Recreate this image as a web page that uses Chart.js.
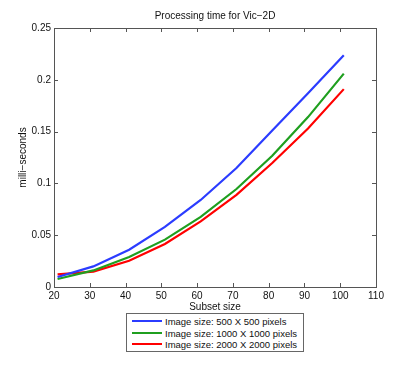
<!DOCTYPE html>
<html>
<head>
<meta charset="utf-8">
<script src="https://cdn.jsdelivr.net/npm/chart.js@4/dist/chart.umd.min.js"></script>
<style>
  html, body { margin: 0; padding: 0; background: #fff; }
  #wrap { position: relative; width: 415px; height: 381px; }
  #legend {
    position: absolute; left: 126px; top: 313px; width: 178px; height: 39px;
    border: 1px solid #666; background: #fff; box-sizing: border-box;
    font: 9.5px "Liberation Sans", Arial, sans-serif; color: #111;
    padding-top: 2px;
  }
  #legend div { height: 11.6px; line-height: 11.6px; white-space: nowrap; }
  #legend span.ln { display: inline-block; width: 30px; height: 2px; margin: 0 3px 3px 5px; vertical-align: middle; }
</style>
</head>
<body>
<div id="wrap">
  <canvas id="myChart" width="415" height="381"></canvas>
  <div id="legend"></div>
</div>
<script>
const subsetSize = [21, 31, 41, 51, 61, 71, 81, 91, 101];
const nombres = [
  "Image size: 500 X 500 pixels",
  "Image size: 1000 X 1000 pixels",
  "Image size: 2000 X 2000 pixels",
];
const t500 = [0.0097, 0.0199, 0.036, 0.058, 0.084, 0.1149, 0.151, 0.187, 0.2236];
const t1000 = [0.0077, 0.016, 0.029, 0.0457, 0.0676, 0.0946, 0.1267, 0.164, 0.206];
const t2000 = [0.0122, 0.0148, 0.0254, 0.0415, 0.0633, 0.089, 0.1197, 0.153, 0.191];
const colores = ["#2b3cff", "#1f9f1f", "#ff0000"];

const series = [t500, t1000, t2000];
const fuente = "'Liberation Sans', Arial, sans-serif";

// ticks hacia adentro en los cuatro lados + caja
const marco = {
  id: "marco",
  afterDraw(chart) {
    const c = chart.ctx;
    const a = chart.chartArea;
    const sx = chart.scales.x;
    const sy = chart.scales.y;
    c.save();
    c.strokeStyle = "#555";
    c.lineWidth = 1;
    c.beginPath();
    sx.ticks.forEach((t) => {
      const px = Math.round(sx.getPixelForValue(t.value)) + 0.5;
      c.moveTo(px, a.bottom); c.lineTo(px, a.bottom - 4);
      c.moveTo(px, a.top); c.lineTo(px, a.top + 4);
    });
    sy.ticks.forEach((t) => {
      const py = Math.round(sy.getPixelForValue(t.value)) + 0.5;
      c.moveTo(a.left, py); c.lineTo(a.left + 4, py);
      c.moveTo(a.right, py); c.lineTo(a.right - 4, py);
    });
    c.stroke();
    c.strokeRect(Math.round(a.left) + 0.5, Math.round(a.top) + 0.5,
      Math.round(a.right - a.left), Math.round(a.bottom - a.top));
    c.restore();
  },
};

new Chart(document.getElementById("myChart"), {
  type: "line",
  data: {
    datasets: series.map((s, i) => ({
      label: nombres[i],
      data: s.map((v, j) => ({ x: subsetSize[j], y: v })),
      borderColor: colores[i],
      backgroundColor: colores[i],
      borderWidth: 2.2,
      pointRadius: 0,
      tension: 0,
    })),
  },
  options: {
    responsive: false,
    animation: false,
    layout: { padding: { left: 0, top: 0, right: 39, bottom: 68 } },
    plugins: {
      legend: { display: false },
      tooltip: { enabled: false },
      title: {
        display: true,
        text: "Processing time for Vic\u22122D",
        fullSize: false,
        color: "#111",
        font: { family: fuente, size: 10, weight: "normal" },
        padding: { top: 10, bottom: 6 },
      },
    },
    scales: {
      x: {
        type: "linear",
        min: 20,
        max: 110,
        ticks: { stepSize: 10, color: "#111", padding: 3, font: { family: fuente, size: 10 } },
        grid: { display: false, drawTicks: false },
        border: { display: false },
        title: {
          display: true,
          text: "Subset size",
          color: "#111",
          font: { family: fuente, size: 10 },
          padding: { top: 0, bottom: 0 },
        },
        afterFit: (s) => { s.height = 26; },
      },
      y: {
        min: 0,
        max: 0.25,
        ticks: {
          stepSize: 0.05,
          color: "#111",
          padding: 3,
          font: { family: fuente, size: 10 },
          callback: (v) => String(Math.round(v * 100) / 100),
        },
        grid: { display: false, drawTicks: false },
        border: { display: false },
        title: {
          display: true,
          text: "milli\u2212seconds",
          color: "#111",
          font: { family: fuente, size: 10 },
          padding: { top: 17, bottom: 0 },
        },
        afterFit: (s) => { s.width = 54; },
      },
    },
  },
  plugins: [marco],
});

const ley = document.getElementById("legend");
nombres.forEach((n, i) => {
  const d = document.createElement("div");
  d.innerHTML = `<span class="ln" style="background:${colores[i]}"></span>${n}`;
  ley.appendChild(d);
});
</script>
</body>
</html>
